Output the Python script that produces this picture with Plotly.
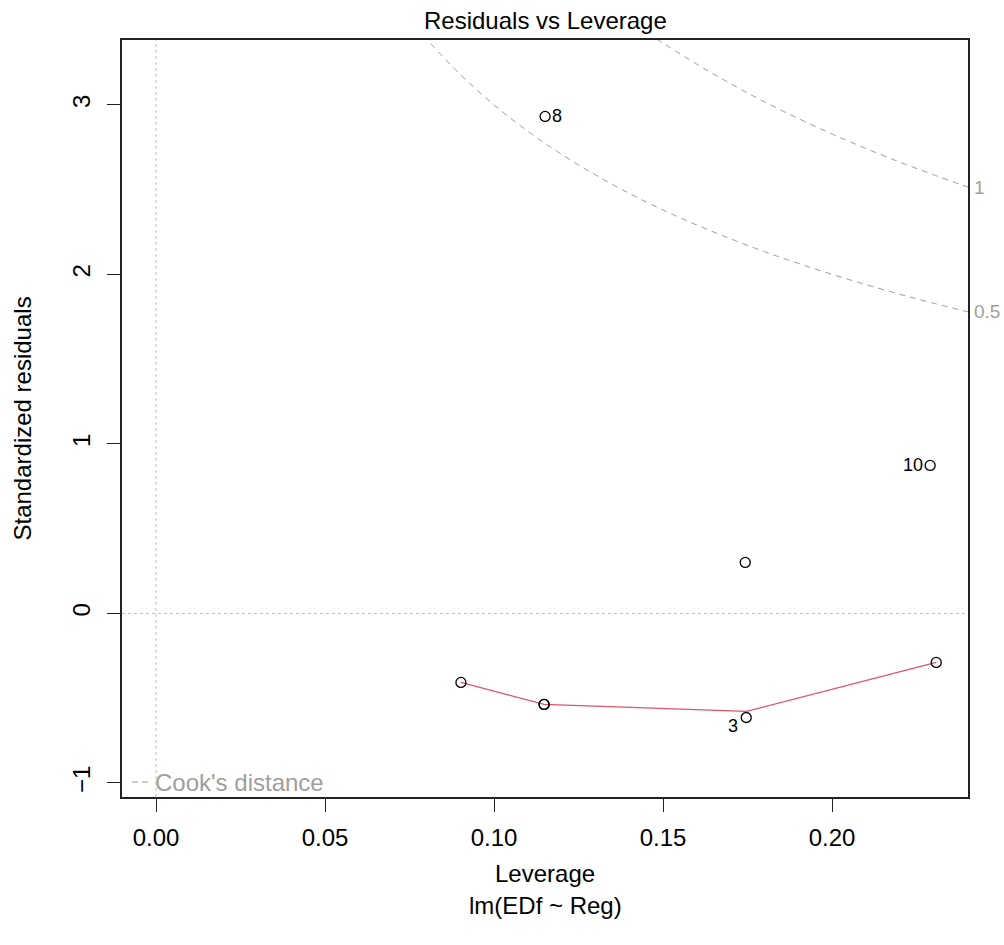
import plotly.graph_objects as go

# Observed points (leverage, standardized residual)
lev = [0.0902, 0.1148, 0.1148, 0.1151, 0.1743, 0.1746, 0.2290, 0.2308]
std_res = [-0.407, -0.537, -0.537, 2.932, 0.301, -0.614, 0.873, -0.289]
point_ids = ["", "", "", "8", "", "3", "10", ""]

# Smoother (red line)
smooth_x = [0.0902, 0.1148, 0.1746, 0.2308]
smooth_y = [-0.407, -0.537, -0.578, -0.289]

# Cook's distance contours
cook05_x = [0.0790, 0.09, 0.10, 0.11, 0.12, 0.13, 0.14, 0.15, 0.16, 0.17, 0.18, 0.19, 0.20, 0.21, 0.22, 0.23, 0.2402]
cook05_y = [3.41, 3.18, 3.00, 2.844, 2.708, 2.587, 2.478, 2.380, 2.291, 2.210, 2.134, 2.065, 2.000, 1.940, 1.883, 1.830, 1.779]
cook1_x = [0.148, 0.16, 0.17, 0.18, 0.19, 0.20, 0.21, 0.22, 0.23, 0.2402]
cook1_y = [3.39, 3.240, 3.125, 3.018, 2.920, 2.828, 2.743, 2.663, 2.588, 2.515]
cook_levels = ["0.5", "1"]

x_ticks = [0.00, 0.05, 0.10, 0.15, 0.20]
x_ticklabels = ["0.00", "0.05", "0.10", "0.15", "0.20"]
y_ticks = [-1, 0, 1, 2, 3]

XR = [-0.01006, 0.2402]
YR = [-1.083, 3.383]

FONT = "Liberation Sans, Arial, sans-serif"
GREY = "#9E9E9E"
LGREY = "#BEBEBE"
FS = 24

fig = go.Figure()

# reference dotted lines
fig.add_shape(type="line", x0=0, x1=0, y0=YR[0], y1=YR[1], xref="x", yref="y",
              line=dict(color=LGREY, width=1, dash="dot"), layer="below")
fig.add_shape(type="line", x0=XR[0], x1=XR[1], y0=0, y1=0, xref="x", yref="y",
              line=dict(color=LGREY, width=1, dash="dot"), layer="below")

for cx, cy in [(cook05_x, cook05_y), (cook1_x, cook1_y)]:
    fig.add_trace(go.Scatter(x=cx, y=cy, mode="lines",
                             line=dict(color=GREY, width=1, dash="6px,5px", shape="spline"),
                             hoverinfo="skip", showlegend=False, cliponaxis=True))

fig.add_trace(go.Scatter(x=smooth_x, y=smooth_y, mode="lines", line=dict(color="#DF536B", width=1.3),
                         showlegend=False))

fig.add_trace(go.Scatter(x=lev, y=std_res, mode="markers",
                         marker=dict(symbol="circle-open", size=10, color="black", line=dict(width=1.3, color="black")),
                         showlegend=False))

# point labels
label_pos = {"8": ("left", 5, 0), "10": ("right", -5, 0), "3": ("right", -6, 8)}
for xv, yv, t in zip(lev, std_res, point_ids):
    if not t:
        continue
    anchor, dx, dy = label_pos[t]
    fig.add_annotation(x=xv, y=yv, text=t, showarrow=False, xanchor=anchor, yanchor="middle",
                       xshift=dx, yshift=-dy, font=dict(family=FONT, size=18, color="black"))

# contour labels on right margin
fig.add_annotation(x=1.0, xref="paper", y=cook05_y[-1], yref="y", text=cook_levels[0], showarrow=False,
                   xanchor="left", xshift=4, font=dict(family=FONT, size=19, color=GREY))
fig.add_annotation(x=1.0, xref="paper", y=cook1_y[-1], yref="y", text=cook_levels[1], showarrow=False,
                   xanchor="left", xshift=4, font=dict(family=FONT, size=19, color=GREY))

# legend
fig.add_shape(type="line", x0=-0.0071, x1=-0.0012, y0=-0.995, y1=-0.995, xref="x", yref="y",
              line=dict(color=GREY, width=1, dash="6px,4px"))
fig.add_annotation(x=-0.0010, y=-0.995, text="Cook's distance", showarrow=False, xanchor="left", yanchor="middle",
                   font=dict(family=FONT, size=FS, color=GREY))

# titles
fig.add_annotation(x=0.5, xref="paper", y=1, yref="paper", yanchor="bottom", yshift=4,
                   text="Residuals vs Leverage", showarrow=False,
                   font=dict(family=FONT, size=FS, color="black"))
fig.add_annotation(x=0.5, xref="paper", y=0, yref="paper", yanchor="middle", yshift=-76, text="Leverage",
                   showarrow=False, font=dict(family=FONT, size=FS, color="black"))
fig.add_annotation(x=0.5, xref="paper", y=0, yref="paper", yanchor="middle", yshift=-108, text="lm(EDf ~ Reg)",
                   showarrow=False, font=dict(family=FONT, size=FS, color="black"))
fig.add_annotation(x=0, xref="paper", xanchor="center", xshift=-100, y=0.5, yref="paper",
                   text="Standardized residuals", textangle=-90,
                   showarrow=False, font=dict(family=FONT, size=FS, color="black"))

fig.update_layout(
    width=1004, height=945,
    margin=dict(l=122, r=36, t=40, b=148),
    paper_bgcolor="white", plot_bgcolor="white",
    showlegend=False,
    xaxis=dict(range=XR, tickvals=x_ticks, ticktext=x_ticklabels, ticks="outside", ticklen=13, tickwidth=1.3,
               tickcolor="#222", showgrid=False, zeroline=False, showline=True, linecolor="#222", linewidth=1.5,
               mirror=True, tickfont=dict(family=FONT, size=FS, color="black"), ticklabelstandoff=5),
    yaxis=dict(range=YR, tickvals=y_ticks, ticks="outside", ticklen=13, tickwidth=1.3, tickangle=-90,
               tickcolor="#222", showgrid=False, zeroline=False, showline=True, linecolor="#222", linewidth=1.5,
               mirror=True, tickfont=dict(family=FONT, size=FS, color="black"), ticklabelstandoff=8),
)

fig.write_html("out.html")
